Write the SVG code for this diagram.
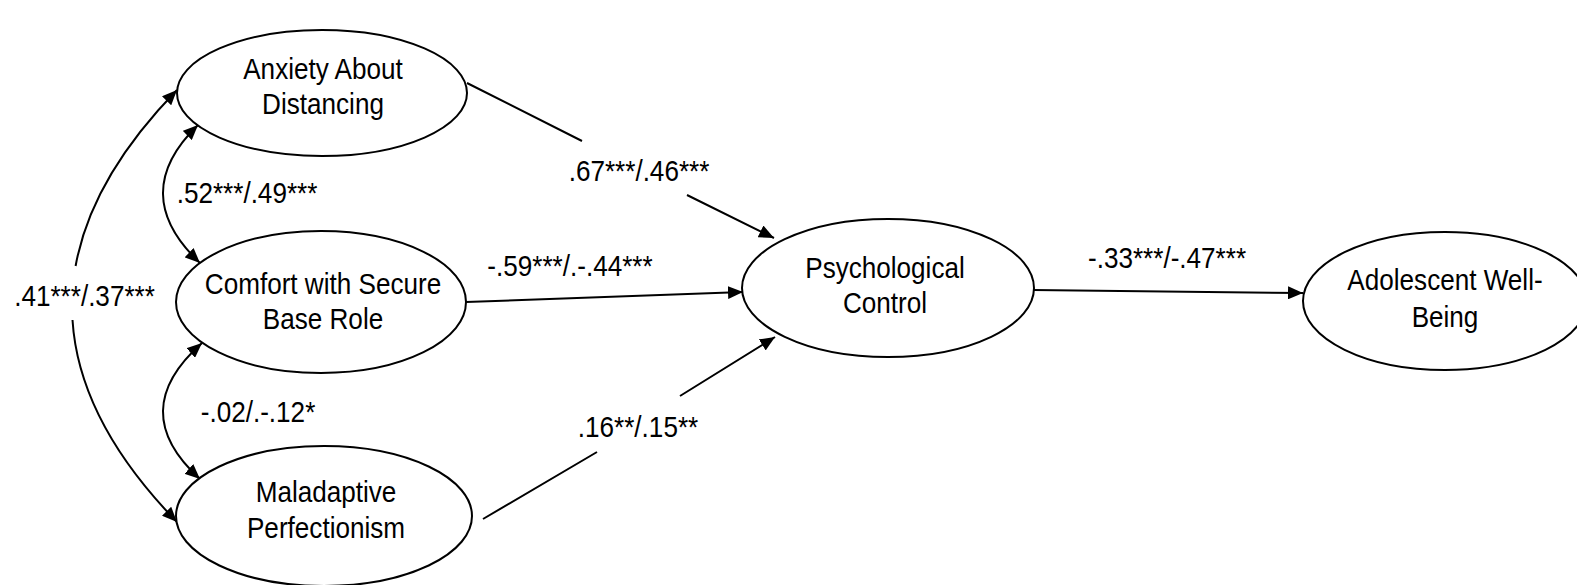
<svg xmlns="http://www.w3.org/2000/svg" width="1577" height="585" viewBox="0 0 1577 585">
<style>
.node ellipse{fill:#fff;stroke:#000;stroke-width:2}
text{font-family:"Liberation Sans",Arial,sans-serif;font-size:30px;fill:#000;text-anchor:middle}
.conn path{fill:none;stroke:#000;stroke-width:2}
</style>
<defs>
<marker id="ah" markerUnits="userSpaceOnUse" markerWidth="16" markerHeight="13" refX="15" refY="6.5" orient="auto-start-reverse" viewBox="0 0 16 13">
<path d="M0,0 L15,6.5 L0,13 z" fill="#000"/>
</marker>
</defs>
<rect width="1577" height="585" fill="#fff"/>
<g id="connectors" class="conn">
<path d="M177,90 Q91.4,178 75.6,266" marker-start="url(#ah)"/>
<path d="M72.5,320 Q78.8,421 177,522" marker-end="url(#ah)"/>
<path d="M198,125 Q127,194 200,263" marker-start="url(#ah)" marker-end="url(#ah)"/>
<path d="M202,343 Q125,411 200,479" marker-start="url(#ah)" marker-end="url(#ah)"/>
<path d="M467,83 L582,141 M687,195 L774,238" marker-end="url(#ah)"/>
<path d="M466,302 L743,292" marker-end="url(#ah)"/>
<path d="M483,519 L597,452 M680,396 L775,337" marker-end="url(#ah)"/>
<path d="M1033,290 L1303,293" marker-end="url(#ah)"/>
</g>
<g id="labels">
<text transform="translate(84.5,306) scale(0.87,1)">.41***/.37***</text>
<text transform="translate(247,203) scale(0.87,1)">.52***/.49***</text>
<text transform="translate(258,422) scale(0.87,1)">-.02/.-.12*</text>
<text transform="translate(639,181) scale(0.87,1)">.67***/.46***</text>
<text transform="translate(570,276) scale(0.87,1)">-.59***/.-.44***</text>
<text transform="translate(638,437) scale(0.87,1)">.16**/.15**</text>
<text transform="translate(1167,268) scale(0.87,1)">-.33***/-.47***</text>
</g>
<g id="anxiety" class="node">
<ellipse cx="322" cy="93" rx="145" ry="63"/>
<text transform="translate(323,79) scale(0.87,1)">Anxiety About</text>
<text transform="translate(323,114) scale(0.87,1)">Distancing</text>
</g>
<g id="comfort" class="node">
<ellipse cx="321" cy="302" rx="145" ry="71"/>
<text transform="translate(323,294) scale(0.87,1)">Comfort with Secure</text>
<text transform="translate(323,329) scale(0.87,1)">Base Role</text>
</g>
<g id="maladaptive" class="node">
<ellipse cx="324" cy="516" rx="148" ry="70"/>
<text transform="translate(326,502) scale(0.87,1)">Maladaptive</text>
<text transform="translate(326,538) scale(0.87,1)">Perfectionism</text>
</g>
<g id="psychological" class="node">
<ellipse cx="888" cy="288" rx="146" ry="69"/>
<text transform="translate(885,278) scale(0.87,1)">Psychological</text>
<text transform="translate(885,313) scale(0.87,1)">Control</text>
</g>
<g id="wellbeing" class="node">
<ellipse cx="1445" cy="301" rx="142" ry="69"/>
<text transform="translate(1445,290) scale(0.87,1)">Adolescent Well-</text>
<text transform="translate(1445,327) scale(0.87,1)">Being</text>
</g>
</svg>
